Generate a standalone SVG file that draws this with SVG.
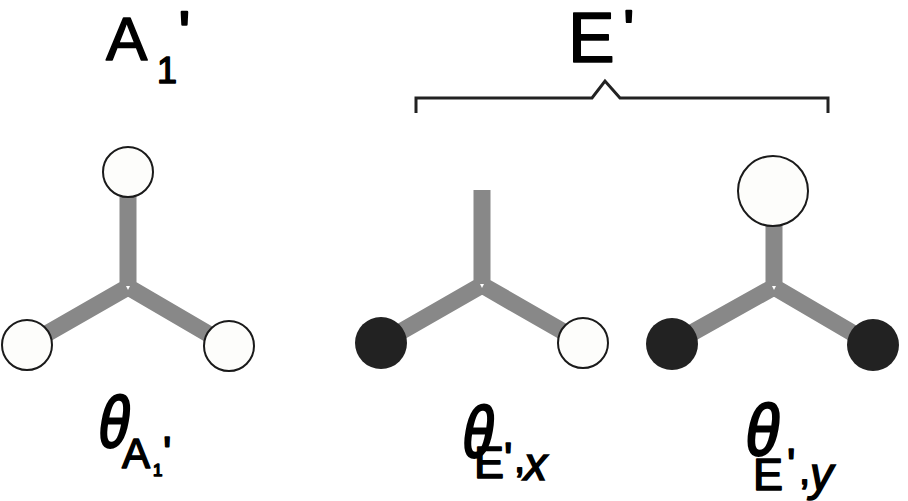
<svg xmlns="http://www.w3.org/2000/svg" width="908" height="501" viewBox="0 0 908 501">
<style>
.bond{fill:none;stroke:#888888;stroke-width:17;stroke-linejoin:miter;stroke-linecap:butt}
.w{fill:#fdfdfb;stroke:#1a1a1a;stroke-width:2}
.b{fill:#222222;stroke:none}
.t{font-family:"Liberation Sans","DejaVu Sans",sans-serif;fill:#000;stroke:#000;stroke-width:1.5;stroke-linejoin:round}
.p{font-family:"Liberation Sans","DejaVu Sans",sans-serif;fill:#000;stroke:#000;stroke-width:2.5;stroke-linejoin:round}
.g{font-family:"Liberation Sans","DejaVu Sans",sans-serif;font-style:italic;fill:#000;stroke:#000;stroke-width:1.5}
.th{font-family:"Liberation Sans","DejaVu Sans",sans-serif;fill:#000;stroke:#000;stroke-width:2.5;stroke-linejoin:round}
.notch{fill:#ffffff}
</style>
<rect width="908" height="501" fill="#ffffff"/>
<g id="title-A1">
<text class="t" x="106" y="60" font-size="62">A</text>
<text class="t" x="157" y="83" font-size="36">1</text>
<text class="p" x="179" y="52" font-size="57">'</text>
</g>
<g id="title-E">
<text class="t" x="568" y="62" font-size="70">E</text>
<text class="p" x="624" y="46" font-size="50">'</text>
</g>
<g id="connectors">
<path d="M416 113 V98 H592 L605 81 L620 98 H828 V113" fill="none" stroke="#222" stroke-width="3"/>
</g>
<g id="mol-A1">
<path class="bond" d="M128 172 V287 L27 345 M128 287 L229 346"/>
<polygon class="notch" points="126,286 130,286 128,290"/>
<circle class="w" cx="128" cy="172" r="25"/>
<circle class="w" cx="27" cy="345" r="25"/>
<circle class="w" cx="229" cy="346" r="25"/>
</g>
<g id="mol-Ex">
<path class="bond" d="M482 190 V285 L381 343 M482 285 L583 343"/>
<polygon class="notch" points="480,284 484,284 482,288"/>
<circle class="b" cx="381" cy="343" r="26"/>
<circle class="w" cx="583" cy="343" r="25"/>
</g>
<g id="mol-Ey">
<path class="bond" d="M774 191 V287 L672 344 M774 287 L873 345"/>
<polygon class="notch" points="772,286 776,286 774,290"/>
<circle class="w" cx="773" cy="191" r="35"/>
<circle class="b" cx="672" cy="344" r="26"/>
<circle class="b" cx="873" cy="345" r="26"/>
</g>
<g id="label-A1">
<text class="th" transform="translate(95,447) skewX(-10) scale(0.78,1)" font-size="72">θ</text>
<text class="t" x="122" y="468" font-size="42">A</text>
<text class="t" x="153" y="476" font-size="17">1</text>
<text class="t" x="163" y="468" font-size="44">'</text>
</g>
<g id="label-Ex">
<text class="th" transform="translate(459,457) skewX(-10) scale(0.78,1)" font-size="72">θ</text>
<text class="t" x="474" y="478" font-size="45">E</text>
<text class="t" x="504" y="474" font-size="44">'</text>
<text class="t" x="514" y="472" font-size="40">,</text>
<text class="g" x="524" y="480" font-size="46">x</text>
</g>
<g id="label-Ey">
<text class="th" transform="translate(742,455) skewX(-10) scale(0.85,1)" font-size="72">θ</text>
<text class="t" x="753" y="490" font-size="45">E</text>
<text class="t" x="787" y="480" font-size="44">'</text>
<text class="t" x="799" y="484" font-size="40">,</text>
<text class="g" x="810" y="490" font-size="46">y</text>
</g>
</svg>
